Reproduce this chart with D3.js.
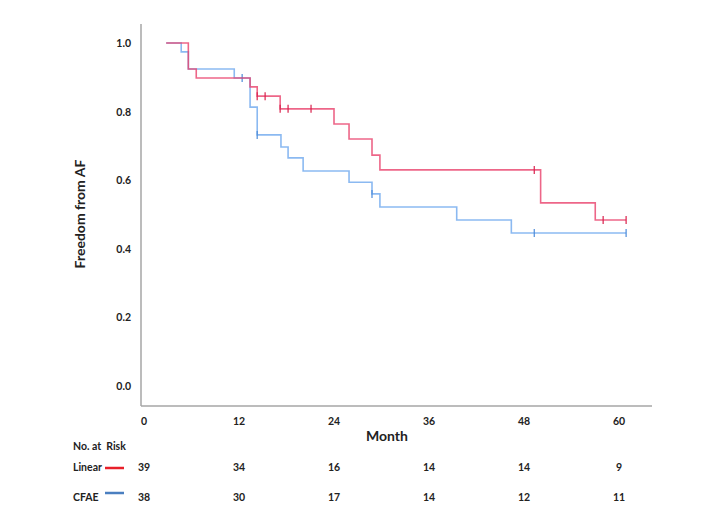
<!DOCTYPE html>
<html><head><meta charset="utf-8">
<script src="https://cdn.jsdelivr.net/npm/d3@7"></script>
<style>body{margin:0;background:#fff}svg{display:block}text{font-family:Lato,"Open Sans",sans-serif;font-weight:bold;fill:#222}</style>
</head><body><svg id="c" width="706" height="532"></svg>
<script>
// Kaplan-Meier steps: [month, survival after this time]
const linearSteps = [[2.8,1.0],[5.6,0.924],[6.6,0.898],[13.4,0.872],[14.3,0.845],[17.2,0.808],[24.0,0.764],[25.9,0.72],[28.8,0.673],[29.8,0.63],[50.1,0.534],[57.0,0.484],[60.9,0.484]];
const linearCensor = [14.3,15.3,17.2,18.2,21.1,49.3,58.0,60.9];
const cfaeSteps = [[2.8,1.0],[4.7,0.974],[5.6,0.924],[11.4,0.898],[13.4,0.813],[14.3,0.732],[17.3,0.697],[18.2,0.665],[20.1,0.627],[25.9,0.594],[28.8,0.56],[29.8,0.522],[39.5,0.484],[46.4,0.446],[60.9,0.446]];
const cfaeCensor = [12.4,14.3,28.8,49.3,60.9];
const xTicks = [0,12,24,36,48,60];
const yTicks = [0.0,0.2,0.4,0.6,0.8,1.0];
const riskLinear = [39,34,16,14,14,9];
const riskCFAE = [38,30,17,14,12,11];

const svg = d3.select("#c");
const x = d3.scaleLinear().domain([0,60]).range([144,619]);
const y = d3.scaleLinear().domain([0,1]).range([386,43]);
const axisColor = "#a6a6a6";

svg.append("line").attr("x1",141).attr("x2",141).attr("y1",24).attr("y2",406).attr("stroke",axisColor).attr("stroke-width",1.5);
svg.append("line").attr("x1",141).attr("x2",652).attr("y1",406).attr("y2",406).attr("stroke",axisColor).attr("stroke-width",1.5);

svg.selectAll(".yt").data(yTicks).join("text").attr("x",131).attr("y",d=>y(d)+4).attr("text-anchor","end").attr("font-size",10.5).text(d=>d.toFixed(1));
svg.selectAll(".xt").data(xTicks).join("text").attr("x",d=>x(d)).attr("y",425).attr("text-anchor","middle").attr("font-size",10.5).text(d=>d);

svg.append("text").attr("x",387).attr("y",441).attr("text-anchor","middle").attr("font-size",14).text("Month");
svg.append("text").attr("transform","translate(85,214) rotate(-90)").attr("text-anchor","middle").attr("font-size",14).text("Freedom from AF");

function stepValue(steps,t){let v=steps[0][1];for(const s of steps){if(s[0]<=t)v=s[1];}return v;}
function drawCurve(steps,censor,color,dark){
  const pts=[];
  steps.forEach((s,i)=>{ if(i>0) pts.push([s[0],steps[i-1][1]]); pts.push(s); });
  svg.append("path").attr("d",d3.line().x(d=>x(d[0])).y(d=>y(d[1])).curve(d3.curveLinear)(pts))
    .attr("fill","none").attr("stroke",color).attr("stroke-width",1.6).attr("stroke-opacity",0.8);
  svg.selectAll(null).data(censor).join("line")
    .attr("x1",d=>x(d)).attr("x2",d=>x(d))
    .attr("y1",d=>y(stepValue(steps,d))-4).attr("y2",d=>y(stepValue(steps,d))+4)
    .attr("stroke",dark).attr("stroke-width",1.4).attr("stroke-opacity",0.85);
}
drawCurve(cfaeSteps,cfaeCensor,"#6ea8ee","#4a8ad8");
drawCurve(linearSteps,linearCensor,"#e8406a","#d81e4a");

svg.append("text").attr("x",73).attr("y",450).attr("font-size",10.5).text("No. at\u00a0 Risk");
svg.append("text").attr("x",73).attr("y",471).attr("font-size",10.5).text("Linear");
svg.append("text").attr("x",73).attr("y",501).attr("font-size",10.5).text("CFAE");
svg.append("line").attr("x1",105).attr("x2",124).attr("y1",468).attr("y2",468).attr("stroke","#e8202a").attr("stroke-width",2.5);
svg.append("line").attr("x1",105).attr("x2",124).attr("y1",493).attr("y2",493).attr("stroke","#4a7fc0").attr("stroke-width",2.5);
svg.selectAll(".rl").data(riskLinear).join("text").attr("x",(d,i)=>x(xTicks[i])).attr("y",471).attr("text-anchor","middle").attr("font-size",10.5).text(d=>d);
svg.selectAll(".rc").data(riskCFAE).join("text").attr("x",(d,i)=>x(xTicks[i])).attr("y",501).attr("text-anchor","middle").attr("font-size",10.5).text(d=>d);
</script></body></html>
